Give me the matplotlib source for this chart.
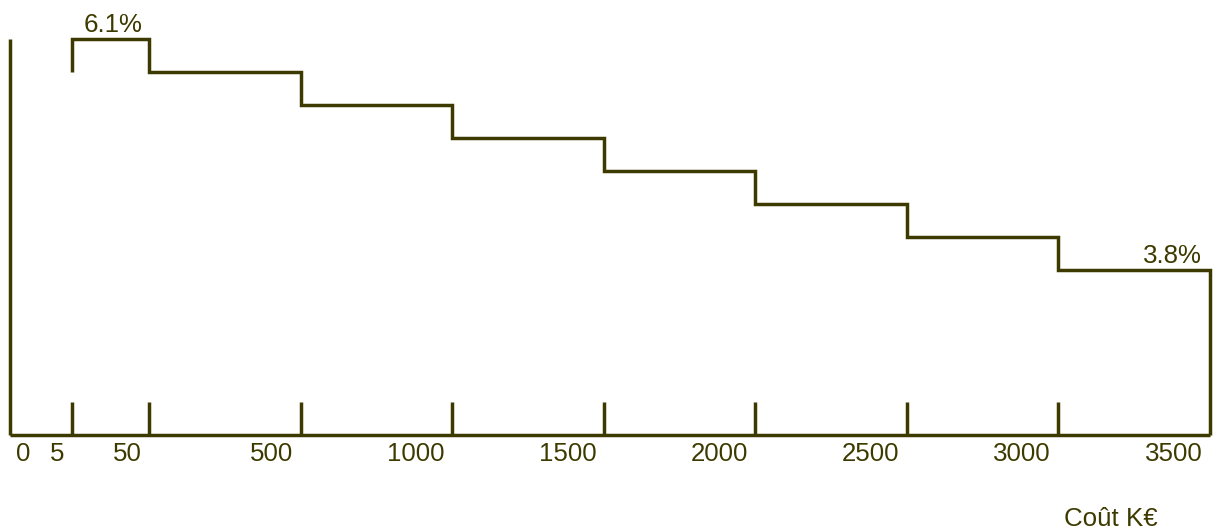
import matplotlib.pyplot as plt

# tiers of cost (K€) and the rate applied in each tier
tier_labels = ["5", "50", "500", "1000", "1500", "2000", "2500", "3000", "3500"]
rates = [6.1, 5.77, 5.44, 5.11, 4.79, 4.46, 4.13, 3.8]
first_rate_label = "6.1%"
last_rate_label = "3.8%"
x_title = "Coût K€"

ink = '#3d3a00'
plt.rcParams['font.family'] = ['Liberation Sans', 'DejaVu Sans']
fs = 18.6
lw = 2.5

# layout: tier boundaries on an index scale (first tier is half width)
bounds = [0.41, 0.92] + [1.92 + i for i in range(len(tier_labels) - 2)]
y_bottom = 2.157

fig = plt.figure(figsize=(12.22, 5.31), dpi=100)
ax = fig.add_axes([10 / 1222, 96 / 531, 1200 / 1222, 396 / 531])

# step path
xs = [bounds[0], bounds[0]]
ys = [rates[1], rates[0]]
for i, r in enumerate(rates):
    xs += [bounds[i], bounds[i + 1]]
    ys += [r, r]
xs += [bounds[-1]]
ys += [y_bottom]
ax.plot(xs, ys, color=ink, lw=lw, solid_joinstyle='miter', solid_capstyle='butt', clip_on=False)

ax.set_xlim(0, bounds[-1])
ax.set_ylim(y_bottom, rates[0])

for s in ['top', 'right']:
    ax.spines[s].set_visible(False)
for s in ['left', 'bottom']:
    ax.spines[s].set_color(ink)
    ax.spines[s].set_linewidth(lw)
    ax.spines[s].set_capstyle('butt')

ax.set_yticks([])
ax.set_xticks(bounds[:-1])
ax.set_xticklabels([])
ax.tick_params(axis='x', direction='in', length=24, width=lw, color=ink)

# tick labels, right aligned just left of each boundary
for b, lab in zip(bounds, tier_labels):
    ax.annotate(lab, (b, 0), xycoords=('data', 'axes fraction'),
                xytext=(-5.5, -18.7), textcoords='offset points',
                ha='right', va='baseline', fontsize=fs, color=ink)
ax.annotate("0", (0, 0), xycoords=('data', 'axes fraction'),
            xytext=(4.2, -18.7), textcoords='offset points',
            ha='left', va='baseline', fontsize=fs, color=ink)

# rate labels
ax.annotate(first_rate_label, ((bounds[0] + bounds[1]) / 2, rates[0]),
            xytext=(1.5, 5), textcoords='offset points',
            ha='center', va='baseline', fontsize=fs, color=ink, annotation_clip=False)
ax.annotate(last_rate_label, (bounds[-1], rates[-1]),
            xytext=(-5.8, 5), textcoords='offset points',
            ha='right', va='baseline', fontsize=fs, color=ink, annotation_clip=False)

fig.text(1158 / 1222, 1 - 526 / 531, x_title, ha='right', va='baseline', fontsize=fs, color=ink)

fig.savefig('out.png', dpi=100)
